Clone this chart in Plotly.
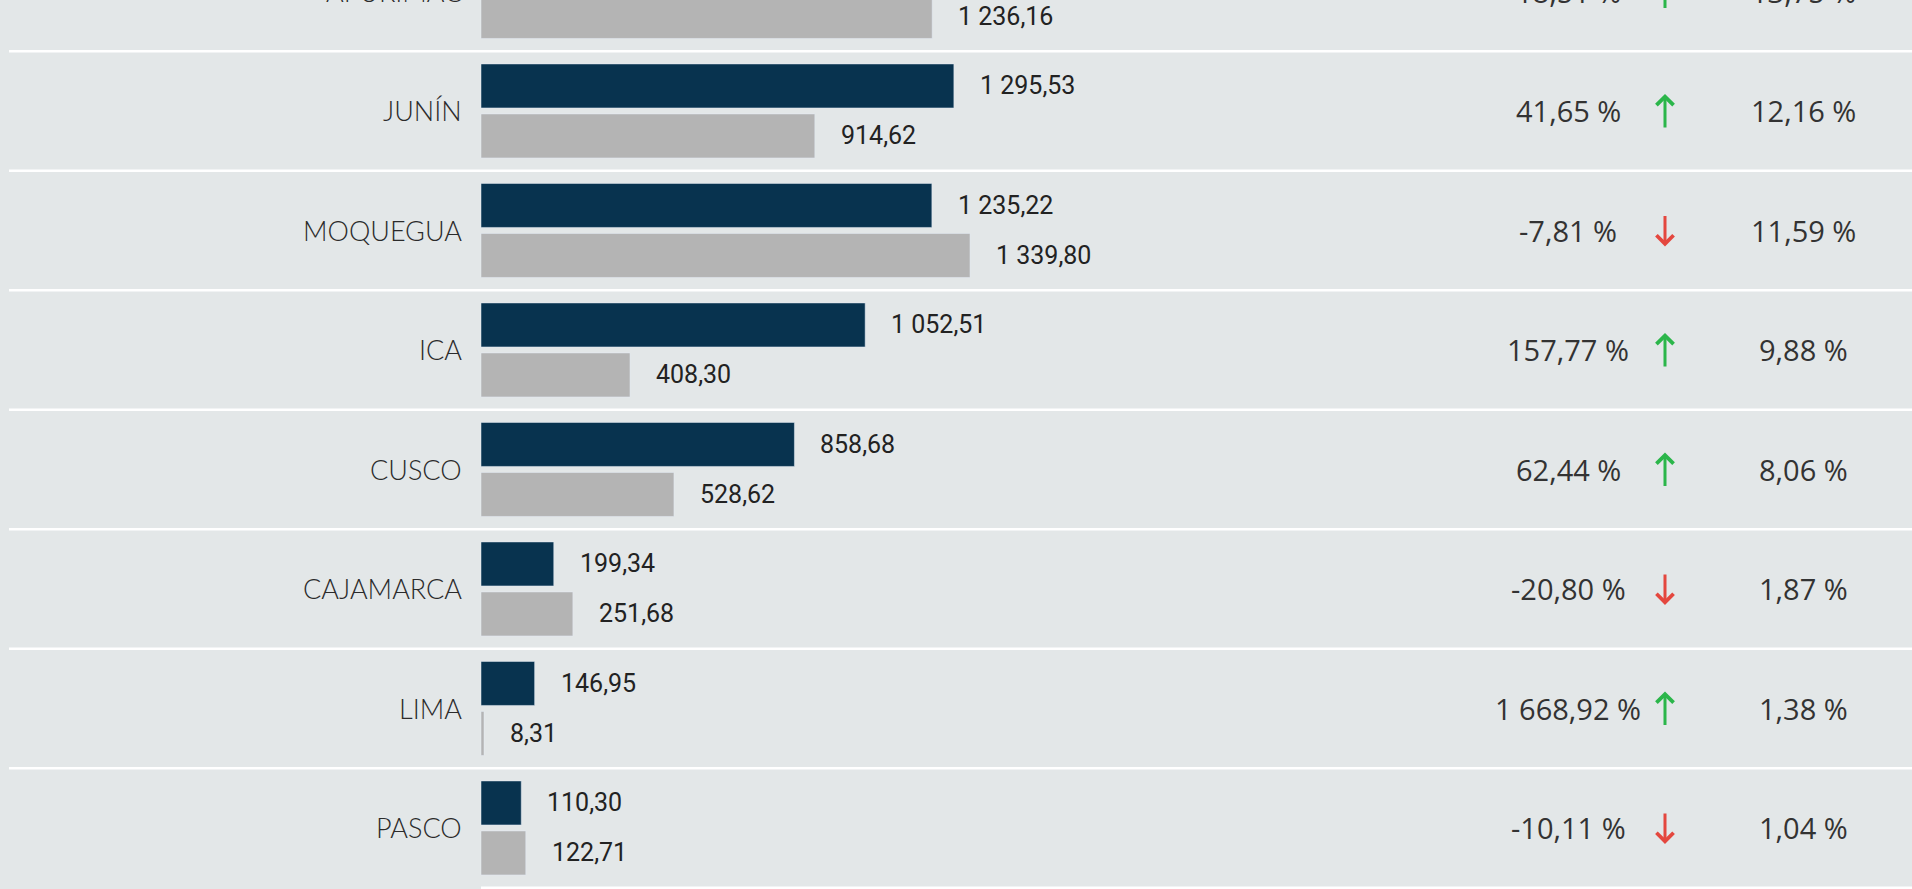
import plotly.graph_objects as go

# Regional values: current period vs previous period
regions = ["APURÍMAC", "JUNÍN", "MOQUEGUA", "ICA", "CUSCO", "CAJAMARCA", "LIMA", "PASCO"]
current = [1464.97, 1295.53, 1235.22, 1052.51, 858.68, 199.34, 146.95, 110.30]
previous = [1236.16, 914.62, 1339.80, 408.30, 528.62, 251.68, 8.31, 122.71]
change_pct = [18.51, 41.65, -7.81, 157.77, 62.44, -20.80, 1668.92, -10.11]
share_pct = [13.75, 12.16, 11.59, 9.88, 8.06, 1.87, 1.38, 1.04]

BG = "#e3e7e8"
NAVY = "#08334f"
GREY = "#b4b4b4"
TEXT = "#333333"
UP = "#2bb64a"
DOWN = "#e4473e"

W, H = 1912, 889
ROW_PX = 119.5          # height of one region row
FIRST_SEP_PX = 51.2     # first separator line below the top row
BAR_X0 = 481            # pixel where the value axis starts
PX_PER_UNIT = 0.365


def num(v):
    s = f"{v:,.2f}"
    return s.replace(",", " ").replace(".", ",")


def row_paper_y(pos):
    """Vertical paper coordinate of a row position (row index units)."""
    px = FIRST_SEP_PX + (pos - 0.5) * ROW_PX
    return 1 - px / H


fig = go.Figure()
fig.add_trace(go.Bar(y=regions, x=current, orientation="h", marker_color=NAVY,
                     name="Actual", hoverinfo="skip"))
fig.add_trace(go.Bar(y=regions, x=previous, orientation="h", marker_color=GREY,
                     name="Anterior", hoverinfo="skip"))

top = 0.5 - FIRST_SEP_PX / ROW_PX
bottom = top + H / ROW_PX
x_lo = -BAR_X0 / PX_PER_UNIT
x_hi = (W - BAR_X0) / PX_PER_UNIT

off = 25 / ROW_PX
annotations = []
shapes = []
for i, reg in enumerate(regions):
    yc = row_paper_y(i)
    # region name
    annotations.append(dict(x=464 / W, xref="paper", y=yc, yref="paper", text=reg,
                            showarrow=False, xanchor="right", yanchor="middle",
                            font=dict(family="Lato", size=27, color="#2b2b2b", weight=300)))
    # bar value labels
    annotations.append(dict(x=current[i], xref="x", y=row_paper_y(i - off), yref="paper",
                            text=num(current[i]),
                            showarrow=False, xanchor="left", yanchor="middle", xshift=24,
                            font=dict(family="Roboto", size=25, color="#222222")))
    annotations.append(dict(x=previous[i], xref="x", y=row_paper_y(i + off), yref="paper",
                            text=num(previous[i]),
                            showarrow=False, xanchor="left", yanchor="middle", xshift=24,
                            font=dict(family="Roboto", size=25, color="#222222")))
    # change column
    annotations.append(dict(x=1568 / W, xref="paper", y=yc, yref="paper",
                            text=num(change_pct[i]) + " %",
                            showarrow=False, xanchor="center", yanchor="middle",
                            font=dict(family="Open Sans", size=29, color=TEXT)))
    # trend arrow
    up = change_pct[i] >= 0
    annotations.append(dict(x=1665 / W, xref="paper", y=yc, yref="paper", text="",
                            showarrow=True, arrowhead=4, arrowsize=1.1, arrowwidth=3,
                            arrowcolor=UP if up else DOWN, ax=0,
                            ay=35 if up else -32, yshift=17 if up else -16,
                            standoff=0, startstandoff=0))
    # share column
    annotations.append(dict(x=1803.5 / W, xref="paper", y=yc, yref="paper",
                            text=num(share_pct[i]) + " %",
                            showarrow=False, xanchor="center", yanchor="middle",
                            font=dict(family="Open Sans", size=29, color=TEXT)))
    # row separator
    shapes.append(dict(type="line", xref="paper", yref="y",
                       x0=(9 if i < len(regions) - 1 else BAR_X0) / W, x1=1,
                       y0=i + 0.5, y1=i + 0.5,
                       line=dict(color="#ffffff", width=2.5)))

fig.update_layout(
    width=W, height=H,
    margin=dict(l=0, r=0, t=0, b=0),
    paper_bgcolor=BG, plot_bgcolor=BG,
    barmode="group", bargap=0.163, bargroupgap=0.12,
    showlegend=False,
    xaxis=dict(range=[x_lo, x_hi], visible=False, fixedrange=True),
    yaxis=dict(type="category", categoryorder="array", categoryarray=regions,
               range=[bottom, top], visible=False, fixedrange=True),
    annotations=annotations,
    shapes=shapes,
)

fig.write_html("out.html", config={"displayModeBar": False})
